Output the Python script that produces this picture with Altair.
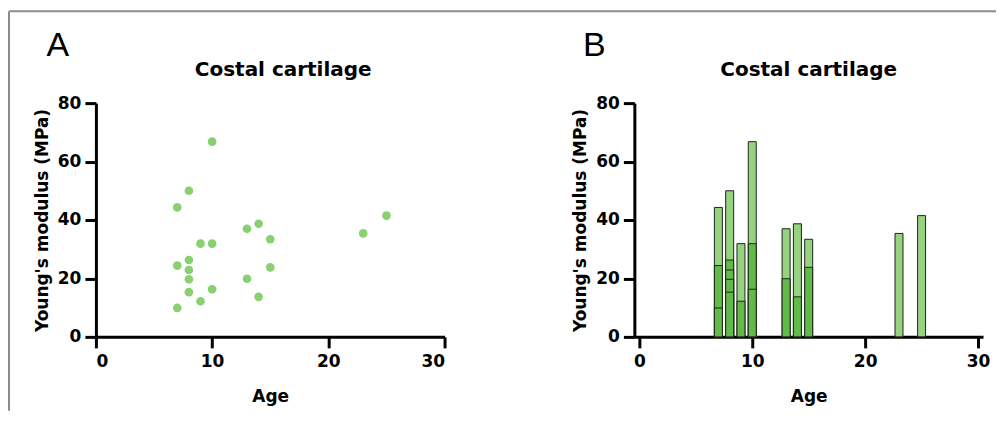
import altair as alt
import pandas as pd

# Data
ages = [7, 7, 7, 8, 8, 8, 8, 8, 9, 9, 10, 10, 10, 13, 13, 14, 14, 15, 15, 23, 25]
moduli = [44.3, 24.4, 9.9, 50.0, 26.3, 22.9, 19.7, 15.3, 31.9, 12.2,
          66.8, 31.9, 16.3, 37.0, 19.9, 38.7, 13.7, 33.4, 23.8, 35.4, 41.5]
x_ticks = [0, 10, 20, 30]
y_ticks = [0, 20, 40, 60, 80]
panel_title = "Costal cartilage"
x_title = "Age"
y_title = "Young's modulus (MPa)"
panel_letters = ["A", "B"]

df = pd.DataFrame({"Age": ages, "Modulus": moduli})
df = df.sort_values(["Age", "Modulus"], ascending=[True, False]).reset_index(drop=True)
df["rank"] = df.groupby("Age").cumcount()
df["shade"] = ["top" if r == 0 else "lower" for r in df["rank"]]
df["draw"] = range(len(df))

FONT = "DejaVu Sans"
W, H = 349, 234

x_enc = alt.X("Age:Q", scale=alt.Scale(domain=[0, 30], nice=False),
              axis=alt.Axis(values=x_ticks, title=x_title, labelPadding=6, titlePadding=19))
y_enc = alt.Y("Modulus:Q", scale=alt.Scale(domain=[0, 80], nice=False), stack=None,
              axis=alt.Axis(values=y_ticks, title=y_title, labelPadding=4, titlePadding=6))

one = pd.DataFrame({"k": [0]})


def title_mark(xo):
    return alt.Chart(pd.DataFrame({"t": [panel_title]})).mark_text(
        font=FONT, fontSize=20, fontWeight="bold", color="black",
        align="center", baseline="alphabetic"
    ).encode(x=alt.value(xo), y=alt.value(-27), text="t:N")


def letter(t, xo):
    return alt.Chart(pd.DataFrame({"t": [t]})).mark_text(
        font="Liberation Sans", fontSize=34, fontWeight="normal", color="black",
        align="center", baseline="middle"
    ).encode(x=alt.value(xo), y=alt.value(-57), text="t:N")


points = alt.Chart(df).mark_circle(size=75, opacity=1, color="#88d070").encode(x=x_enc, y=y_enc)

frame_top = alt.Chart(one).mark_rule(color="#8c8c8c", strokeWidth=2).encode(
    x=alt.value(-87), x2=alt.value(901), y=alt.value(-92))
frame_left = alt.Chart(one).mark_rule(color="#8c8c8c", strokeWidth=2).encode(
    x=alt.value(-87), y=alt.value(-92), y2=alt.value(308))

chart_a = alt.layer(frame_top, frame_left, points,
                    letter(panel_letters[0], -38), title_mark(W / 2 + 13)).properties(width=W, height=H)

bars = alt.Chart(df).mark_bar(size=8, stroke="#1c2618", strokeWidth=1).encode(
    x=x_enc, y=y_enc,
    color=alt.Color("shade:N", scale=alt.Scale(domain=["top", "lower"], range=["#97d280", "#62ba48"]),
                    legend=None),
    order=alt.Order("draw:Q"),
)

chart_b = alt.layer(bars, letter(panel_letters[1], -40), title_mark(W / 2)).properties(width=W, height=H)

chart = alt.hconcat(chart_a, chart_b, spacing=190, bounds="flush").properties(
    padding={"left": 0, "top": 2, "right": 0, "bottom": 0}
).configure_view(stroke=None).configure_axis(
    grid=False, domainColor="black", domainWidth=3, tickColor="black", tickWidth=3, tickSize=11,
    labelFont=FONT, labelFontSize=17, labelFontWeight="bold", labelColor="black",
    titleFont=FONT, titleFontSize=17, titleFontWeight="bold", titleColor="black",
)

chart.save("out.html", embed_options={"renderer": "svg", "actions": False})
